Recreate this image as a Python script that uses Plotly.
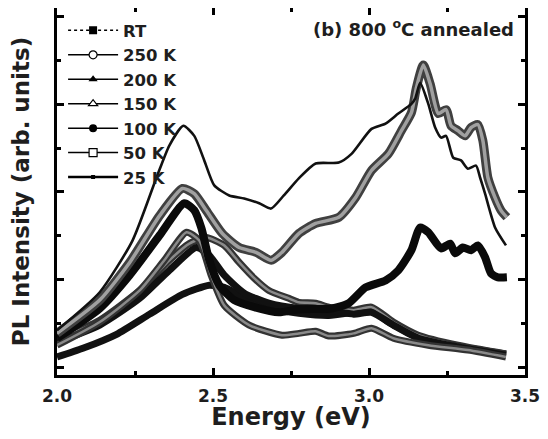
import plotly.graph_objects as go

# ---- data (energy in eV, PL intensity in arb. units) ----
E_RT = [2.000, 2.083, 2.191, 2.297, 2.402, 2.488, 2.536, 2.584, 2.648, 2.711, 2.775, 2.871, 2.951, 3.008, 3.062, 3.158, 3.285, 3.439]
I_RT = [0.23, 0.43, 0.75, 1.21, 1.66, 1.87, 1.82, 1.64, 1.41, 1.30, 1.23, 1.18, 1.25, 1.30, 1.03, 0.68, 0.48, 0.30]

E_250 = [2.000, 2.137, 2.265, 2.360, 2.424, 2.478, 2.536, 2.584, 2.632, 2.679, 2.743, 2.775, 2.829, 2.871, 2.951, 3.008, 3.078, 3.158, 3.285, 3.439]
I_250 = [0.62, 1.07, 1.75, 2.44, 2.82, 2.96, 2.78, 2.39, 2.03, 1.75, 1.57, 1.48, 1.46, 1.37, 1.30, 1.37, 1.03, 0.73, 0.50, 0.30]

E_200 = [2.000, 2.137, 2.265, 2.360, 2.447, 2.488, 2.536, 2.600, 2.679, 2.775, 2.871, 2.951, 3.008, 3.078, 3.158, 3.285, 3.439]
I_200 = [0.57, 0.96, 1.57, 2.21, 2.73, 2.55, 2.10, 1.69, 1.46, 1.34, 1.30, 1.21, 1.25, 0.96, 0.66, 0.46, 0.27]

E_150 = [2.000, 2.137, 2.265, 2.344, 2.415, 2.456, 2.494, 2.536, 2.616, 2.721, 2.775, 2.829, 2.871, 2.951, 3.008, 3.078, 3.190, 3.317, 3.439]
I_150 = [0.50, 1.03, 1.75, 2.44, 3.08, 2.89, 2.10, 1.41, 0.96, 0.73, 0.77, 0.82, 0.71, 0.77, 0.89, 0.66, 0.50, 0.39, 0.23]

E_100 = [2.000, 2.137, 2.233, 2.329, 2.408, 2.440, 2.463, 2.488, 2.520, 2.568, 2.632, 2.711, 2.775, 2.880, 2.935, 2.989, 3.053, 3.094, 3.136, 3.164, 3.190, 3.231, 3.260, 3.276, 3.301, 3.327, 3.349, 3.372, 3.391, 3.413, 3.442]
I_100 = [0.66, 1.34, 2.10, 3.01, 3.74, 3.58, 3.17, 2.44, 1.87, 1.53, 1.37, 1.25, 1.32, 1.34, 1.46, 1.82, 1.98, 2.21, 2.67, 3.19, 3.08, 2.71, 2.82, 2.60, 2.73, 2.67, 2.78, 2.51, 2.14, 2.05, 2.05]

E_50 = [2.000, 2.137, 2.233, 2.329, 2.402, 2.440, 2.478, 2.530, 2.584, 2.638, 2.686, 2.721, 2.775, 2.829, 2.903, 2.957, 3.008, 3.062, 3.104, 3.136, 3.152, 3.174, 3.196, 3.222, 3.247, 3.263, 3.285, 3.308, 3.327, 3.349, 3.365, 3.381, 3.404, 3.423, 3.442]
I_50 = [0.77, 1.53, 2.39, 3.46, 4.08, 3.96, 3.58, 3.05, 2.73, 2.62, 2.44, 2.62, 3.05, 3.28, 3.42, 3.87, 4.49, 4.87, 5.40, 5.81, 6.38, 6.90, 6.47, 5.79, 5.88, 5.51, 5.40, 5.28, 5.47, 5.54, 5.17, 4.33, 3.87, 3.58, 3.42]

E_25 = [2.000, 2.137, 2.242, 2.319, 2.360, 2.405, 2.440, 2.472, 2.504, 2.552, 2.600, 2.648, 2.686, 2.727, 2.775, 2.829, 2.903, 2.944, 3.008, 3.053, 3.094, 3.136, 3.148, 3.164, 3.190, 3.212, 3.231, 3.247, 3.270, 3.295, 3.317, 3.343, 3.356, 3.372, 3.404, 3.439]
I_25 = [0.84, 1.71, 2.89, 4.33, 5.06, 5.51, 5.28, 4.72, 4.15, 3.92, 3.85, 3.74, 3.62, 3.92, 4.31, 4.65, 4.67, 4.87, 5.44, 5.56, 5.79, 6.01, 6.13, 6.49, 6.01, 5.47, 5.24, 5.28, 4.78, 4.72, 4.53, 4.60, 4.33, 3.96, 3.19, 2.78]

labels = ["RT", "250 K", "200 K", "150 K", "100 K", "50 K", "25 K"]
x_ticks = [2.0, 2.5, 3.0, 3.5]
x_ticktext = ["2.0", "2.5", "3.0", "3.5"]

FONT = "DejaVu Sans, Liberation Sans, Arial, sans-serif"
TXT = "#1e1e1e"

fig = go.Figure()

def band(x, y, outer, inner=None, w_out=8, w_in=3):
    fig.add_trace(go.Scatter(x=x, y=y, mode="lines", showlegend=False,
                             line=dict(color=outer, width=w_out, shape="spline", smoothing=0.6),
                             hoverinfo="skip"))
    if inner is not None:
        fig.add_trace(go.Scatter(x=x, y=y, mode="lines", showlegend=False,
                                 line=dict(color=inner, width=w_in, shape="spline", smoothing=0.6),
                                 hoverinfo="skip"))

band(E_RT, I_RT, "#111111", None, 7)
band(E_250, I_250, "#333333", "#8a8a8a", 7, 2.5)
band(E_200, I_200, "#111111", None, 7)
band(E_150, I_150, "#333333", "#8a8a8a", 7, 2.5)
band(E_100, I_100, "#0a0a0a", None, 8)
band(E_50, I_50, "#404040", "#a0a0a0", 9, 3.5)
band(E_25, I_25, "#111111", None, 2.6)

# legend entries
legend_styles = [
    dict(line=dict(color="black", width=1.5, dash="dot"), marker=dict(symbol="square", size=8, color="black")),
    dict(line=dict(color="black", width=1.5), marker=dict(symbol="circle", size=8, color="white", line=dict(color="black", width=1.2))),
    dict(line=dict(color="black", width=1.5), marker=dict(symbol="triangle-up", size=8, color="black")),
    dict(line=dict(color="black", width=1.5), marker=dict(symbol="triangle-up", size=8, color="white", line=dict(color="black", width=1.2))),
    dict(line=dict(color="black", width=1.5), marker=dict(symbol="circle", size=8, color="black")),
    dict(line=dict(color="black", width=1.5), marker=dict(symbol="square", size=8, color="white", line=dict(color="black", width=1.2))),
    dict(line=dict(color="black", width=2.5), marker=dict(symbol="square", size=4, color="black")),
]
for name, st in zip(labels, legend_styles):
    fig.add_trace(go.Scatter(x=[None], y=[None], mode="lines+markers", name=name, **st))

fig.add_annotation(text="<b>(b) 800 <sup>o</sup>C annealed</b>", xref="paper", yref="paper",
                   x=0.98, y=0.945, xanchor="right", yanchor="middle", showarrow=False,
                   font=dict(family=FONT, size=18, color=TXT))

# the page body adds an 8 px margin, so the figure is sized to fit the 548x439 window
fig.update_layout(
    template="none",
    width=540, height=423,
    margin=dict(l=49, r=23, t=0, b=56, autoexpand=False),
    paper_bgcolor="white", plot_bgcolor="white",
    font=dict(family=FONT, color=TXT),
    legend=dict(x=0.013, y=0.986, xanchor="left", yanchor="top", bgcolor="rgba(0,0,0,0)",
                font=dict(family=FONT, size=16.5, weight="bold", color=TXT), tracegroupgap=0,
                itemwidth=50),
    xaxis=dict(range=[2.0, 3.5], tickvals=x_ticks, ticktext=x_ticktext, automargin=False,
               ticks="inside", ticklen=7, tickwidth=3, tickcolor="black",
               minor=dict(dtick=0.25, tick0=2.0, ticks="inside", ticklen=4, tickwidth=3, tickcolor="black"),
               showline=True, linewidth=3, linecolor="black", mirror="ticks",
               showgrid=False, zeroline=False, ticklabelstandoff=4, ticklabeloverflow="allow",
               tickfont=dict(family=FONT, size=17, weight="bold", color=TXT),
               title=dict(text="<b>Energy (eV)</b>", font=dict(family=FONT, size=24, color=TXT), standoff=0)),
    yaxis=dict(range=[-0.18, 8.2], dtick=2, tick0=0, automargin=False,
               ticks="inside", ticklen=7, tickwidth=3, tickcolor="black",
               minor=dict(dtick=1, tick0=0, ticks="inside", ticklen=4, tickwidth=3, tickcolor="black"),
               showline=True, linewidth=3, linecolor="black", mirror="ticks",
               showgrid=False, zeroline=False, showticklabels=False,
               title=dict(text="<b>PL Intensity (arb. units)</b>", font=dict(family=FONT, size=23, color=TXT), standoff=23)),
)

fig.write_html("out.html")
